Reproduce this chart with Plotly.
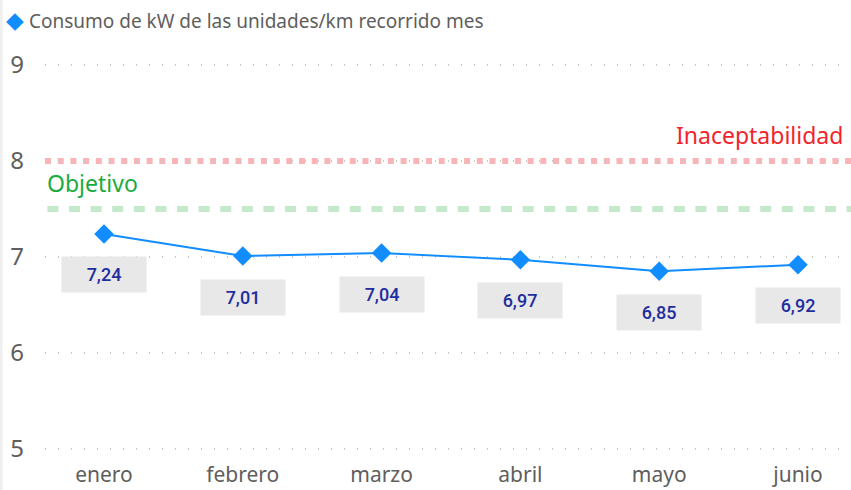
import plotly.graph_objects as go

months = ["enero", "febrero", "marzo", "abril", "mayo", "junio"]
consumo = [7.24, 7.01, 7.04, 6.97, 6.85, 6.92]
value_labels = ["7,24", "7,01", "7,04", "6,97", "6,85", "6,92"]
y_ticks = [5, 6, 7, 8, 9]
objetivo = 7.5
inaceptabilidad = 8.0
title_text = "Consumo de kW de las unidades/km recorrido mes"

BLUE = "#118DFF"
GRAY_TXT = "#605E5C"

fig = go.Figure()

fig.add_trace(go.Scatter(
    x=list(range(len(months))), y=consumo, mode="lines+markers",
    line=dict(color=BLUE, width=2),
    marker=dict(symbol="diamond", size=15, color=BLUE),
    showlegend=False, hoverinfo="skip",
))

# reference lines
fig.add_shape(type="line", xref="paper", x0=0, x1=1, yref="y",
              y0=inaceptabilidad, y1=inaceptabilidad,
              line=dict(color="#F8B4B6", width=6, dash="6px,6.7px"), layer="below")
fig.add_shape(type="line", xref="paper", x0=0.003, x1=1, yref="y",
              y0=objetivo, y1=objetivo,
              line=dict(color="#C4E9CB", width=6, dash="11px,10.6px"), layer="below")

fig.add_annotation(xref="paper", x=0.993, yref="y", y=inaceptabilidad, yshift=8,
                   text="Inaceptabilidad", showarrow=False, xanchor="right", yanchor="bottom",
                   font=dict(family="Noto Sans", size=23, color="#F2242B"))
fig.add_annotation(xref="paper", x=0.0, yref="y", y=objetivo, yshift=8,
                   text="Objetivo", showarrow=False, xanchor="left", yanchor="bottom",
                   font=dict(family="Noto Sans", size=23, color="#1AAB40"))

# data labels
for i, (v, lab) in enumerate(zip(consumo, value_labels)):
    fig.add_annotation(x=i, y=v, yshift=-41, text=lab, showarrow=False,
                       bgcolor="#E8E8E8", borderpad=7, width=70,
                       font=dict(family="Roboto", size=18, weight=500, color="#1F2D9E"))

# title
fig.add_annotation(xref="paper", yref="paper", x=-0.051, y=1.0, xanchor="left", yanchor="bottom",
                   yshift=3,
                   text="<span style='color:" + BLUE + ";font-size:23px'>◆</span> " + title_text,
                   showarrow=False,
                   font=dict(family="Noto Sans", size=19, color=GRAY_TXT))

# left border of the visual
fig.add_shape(type="rect", xref="paper", yref="paper", x0=-0.056, x1=-0.0525, y0=-0.08, y1=1.12,
              line=dict(width=0), fillcolor="#EFEFEF")

fig.update_layout(
    width=851, height=490,
    margin=dict(l=45, r=0, t=40, b=30),
    paper_bgcolor="white", plot_bgcolor="white",
    xaxis=dict(range=[-0.425, 5.382], tickmode="array",
               tickvals=list(range(len(months))), ticktext=months,
               showgrid=False, zeroline=False, showline=False,
               tickfont=dict(family="Noto Sans", size=21, color=GRAY_TXT)),
    yaxis=dict(range=[4.885, 9.26], tickmode="array", tickvals=y_ticks,
               ticktext=[str(t) for t in y_ticks],
               showgrid=True, gridcolor="#C8C8C8", griddash="1px,12px", gridwidth=1.5,
               zeroline=False, showline=False, ticklabelstandoff=20,
               tickfont=dict(family="Noto Sans", size=24, color=GRAY_TXT)),
)

fig.write_html("out.html", config={"displayModeBar": False},
               post_script="document.body.style.margin='0';")
